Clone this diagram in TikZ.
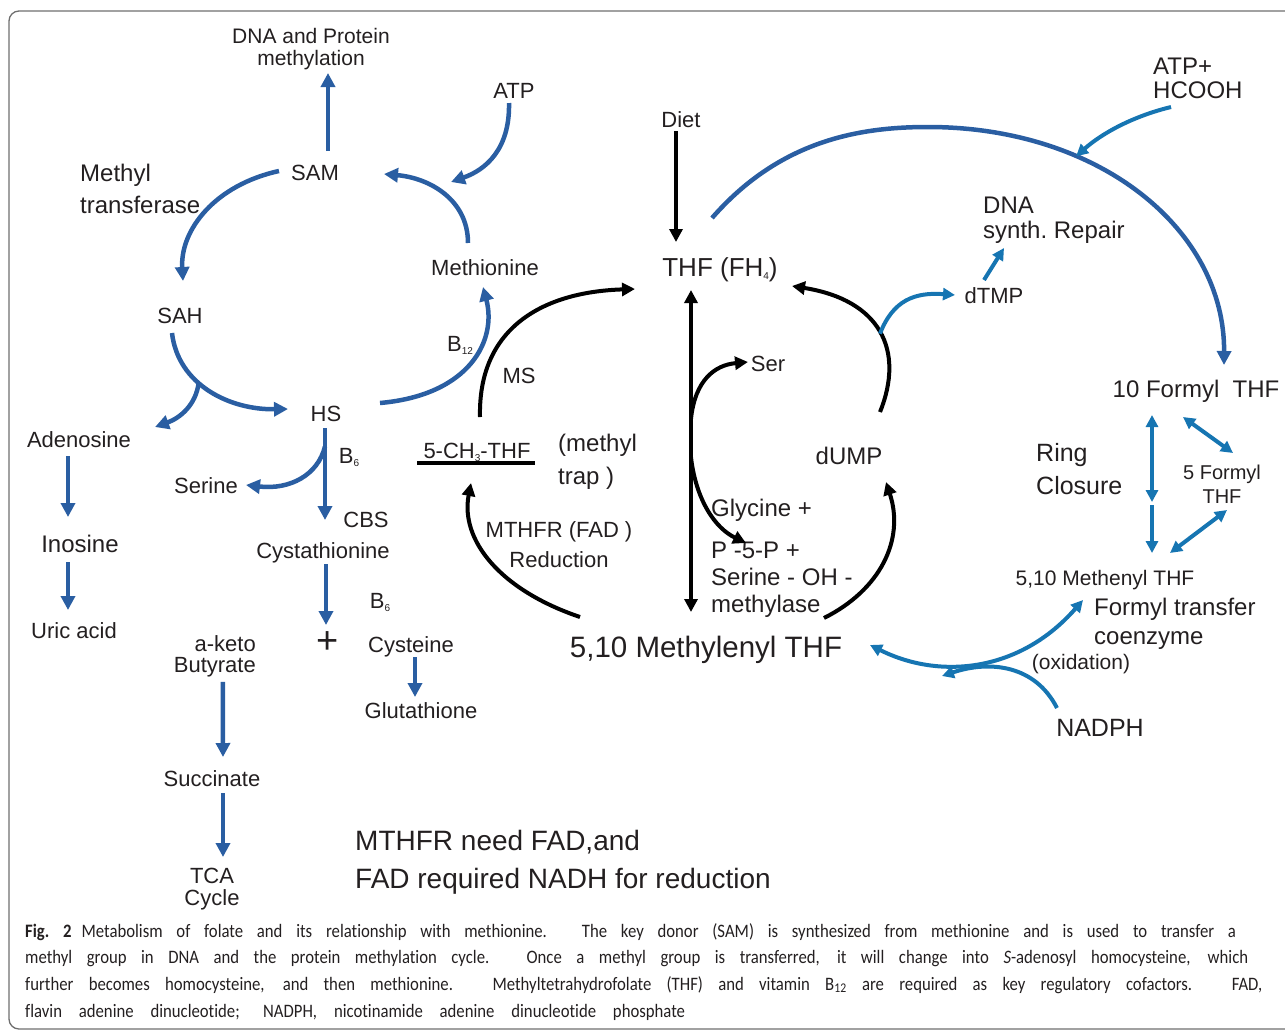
\documentclass[tikz,border=0pt]{standalone}
\usepackage{fontspec}
\setmainfont{Liberation Sans}
\newfontfamily\capfont[Ligatures=NoCommon,FakeStretch=0.88]{Carlito}
\usetikzlibrary{arrows.meta}
\definecolor{dblue}{RGB}{42,94,162}
\definecolor{lblue}{RGB}{22,117,178}
\definecolor{ink}{RGB}{35,31,32}
\definecolor{frame}{RGB}{110,110,110}
\newcommand{\lowsub}[1]{\raisebox{-3pt}{\fontsize{10}{10}\selectfont #1}}

\begin{document}
\begin{tikzpicture}[x=1pt,y=-1pt,
    lbl/.style={inner sep=1pt,text=ink,font=\fontsize{22}{24}\selectfont},
    big/.style={lbl,font=\fontsize{24}{26}\selectfont},
    capline/.style={inner sep=0pt,anchor=base west,text=ink,font=\capfont\fontsize{19}{20}\selectfont},
    barrow/.style={draw=dblue,line width=4.5pt,->,>={Triangle[length=14pt,width=14pt]}},
    larrow/.style={draw=lblue,line width=4pt,->,>={Triangle[length=12pt,width=12pt]}},
    karrow/.style={draw=black,line width=4pt,->,>={Triangle[length=13pt,width=13pt]}}
  ]
  \useasboundingbox (0,0) rectangle (1285,1031);
  \draw[frame,line width=1.3pt,rounded corners=10pt] (9,1029) -- (9,11) -- (1300,11) -- (1300,1029) -- cycle;

  % methionine cycle
  \node[lbl,align=center,font=\fontsize{21}{22}\selectfont] (dna) at (311,49) {DNA and Protein\\methylation};
  \node[lbl] (atp) at (514,91) {ATP};
  \node[lbl,align=left,anchor=west,font=\fontsize{24}{32}\selectfont] (mtrans) at (79,189) {Methyl\\transferase};
  \node[lbl] (sam) at (315,173) {SAM};
  \node[lbl] (meth) at (485,268) {Methionine};
  \node[lbl] (sah) at (180,316) {SAH};
  \node[lbl] (b12) at (460,345) {B\lowsub{12}};
  \node[lbl] (ms) at (519,376) {MS};
  \node[lbl] (hs) at (326,414) {HS};
  \node[lbl] (aden) at (79,440) {Adenosine};
  \node[lbl] (b6a) at (349,457) {B\lowsub{6}};
  \node[lbl] (serine) at (206,486) {Serine};
  \node[lbl] (cbs) at (366,520) {CBS};
  \node[big] (inosine) at (80,544) {Inosine};
  \node[lbl] (cysta) at (323,553) {Cystathionine};
  \node[lbl] (b6b) at (380,602) {B\lowsub{6}};
  \node[lbl] (uric) at (74,631) {Uric acid};
  \node[lbl,align=right,anchor=east,font=\fontsize{22}{21}\selectfont] (aketo) at (257,656) {a-keto\\Butyrate};
  \node[lbl,font=\fontsize{38}{38}\selectfont] (plus) at (328,643) {+};
  \node[lbl] (cyst) at (411,647) {Cysteine};
  \node[lbl] (gluta) at (421,711) {Glutathione};
  \node[lbl] (succ) at (212,779) {Succinate};
  \node[lbl,align=center,font=\fontsize{22}{22}\selectfont] (tca) at (212,889) {TCA\\Cycle};
  \node[lbl,align=left,anchor=west,font=\fontsize{28}{38}\selectfont] (note) at (354,862) {MTHFR need FAD,and\\FAD required NADH for reduction};

  % folate cycle
  \node[lbl] (diet) at (681,120) {Diet};
  \node[lbl,font=\fontsize{26}{28}\selectfont] (thf) at (720,270) {THF (FH\lowsub{4})};
  \node[lbl] (ch3thf) at (477,452) {5-CH\lowsub{3}-THF};
  \node[lbl,align=left,anchor=west,font=\fontsize{24}{33}\selectfont] (trap) at (557,462) {(methyl\\trap )};
  \node[lbl,align=center,font=\fontsize{22}{30}\selectfont] (mthfr) at (559,545) {MTHFR (FAD )\\Reduction};
  \node[lbl,font=\fontsize{29.5}{32}\selectfont] (methylenyl) at (706,650) {5,10 Methylenyl THF};
  \node[lbl] (ser) at (768,364) {Ser};
  \node[big] (dump) at (849,456) {dUMP};
  \node[lbl,align=left,anchor=north west,font=\fontsize{24}{27}\selectfont] (glyc) at (710,498) {Glycine +\\[15pt]P -5-P +\\Serine - OH -\\methylase};
  \node[lbl] (dtmp) at (994,296) {dTMP};
  \node[big,align=left,anchor=west,font=\fontsize{24}{25}\selectfont] (dnasyn) at (982,220) {DNA\\synth.\ Repair};
  \node[big,align=left,anchor=west,font=\fontsize{24}{24}\selectfont] (atphc) at (1152,78) {ATP+\\HCOOH};
  \node[big] (formyl10) at (1196,391) {10 Formyl\ \ THF};
  \node[big,align=left,anchor=west,font=\fontsize{25}{33}\selectfont] (ring) at (1035,469) {Ring\\Closure};
  \node[lbl,align=center,font=\fontsize{20}{24}\selectfont] (formyl5) at (1222,484) {5 Formyl\\THF};
  \node[lbl,font=\fontsize{21}{22}\selectfont] (methenyl) at (1105,580) {5,10 Methenyl THF};
  \node[big,align=left,anchor=west,font=\fontsize{24}{29}\selectfont] (ftrans) at (1093,624) {Formyl transfer\\coenzyme};
  \node[lbl,font=\fontsize{21}{22}\selectfont] (oxid) at (1081,664) {(oxidation)};
  \node[lbl,font=\fontsize{25}{26}\selectfont] (nadph) at (1100,728) {NADPH};

  \coordinate (atpin) at (451,182);
  \coordinate (glyin) at (746,543);
  \coordinate (arctop) at (928,127);
  \coordinate (ringmid) at (1152,503);
  \coordinate (nadin) at (942,676);

  \path ([shift={(13,-22)}]sam.center) edge[barrow] ([shift={(17,24)}]dna.center);
  \draw[barrow] ([shift={(-5,12)}]atp.center) .. controls (510,150) and (485,170) .. (atpin);
  \draw[barrow] ([shift={(-17,-25)}]meth.center) .. controls (468,200) and (430,178) .. ([shift={(69,1)}]sam.center);
  \draw[barrow] ([shift={(-36,-2)}]sam.center) .. controls (215,185) and (180,230) .. ([shift={(3,-35)}]sah.center);
  \draw[barrow] ([shift={(-8,17)}]sah.center) .. controls (178,385) and (230,410) .. coordinate[pos=0.4] (adbr) ([shift={(-38,-5)}]hs.center);
  \draw[barrow] (adbr) .. controls (196,405) and (180,418) .. ([shift={(76,-13)}]aden.center);
  \draw[barrow] ([shift={(54,-11)}]hs.center) .. controls (470,395) and (497,340) .. ([shift={(-2,19)}]meth.center);
  \path ([shift={(-1,14)}]hs.center) edge[barrow] coordinate[pos=0.2] (serbr) ([shift={(2,-33)}]cysta.center);
  \draw[barrow] (serbr) .. controls (318,475) and (290,490) .. ([shift={(40,-1)}]serine.center);
  \path ([shift={(-11,16)}]aden.center) edge[barrow] ([shift={(-12,-27)}]inosine.center);
  \path ([shift={(-12,18)}]inosine.center) edge[barrow] ([shift={(-6,-21)}]uric.center);
  \path ([shift={(3,11)}]cysta.center) edge[barrow] ([shift={(-2,-18)}]plus.center);
  \path ([shift={(4,10)}]cyst.center) edge[barrow] ([shift={(-6,-14)}]gluta.center);
  \path ([shift={(8,4)}]aketo.south) edge[barrow] ([shift={(11,-22)}]succ.center);
  \path ([shift={(11,14)}]succ.center) edge[barrow] ([shift={(11,-32)}]tca.center);

  \draw[black,line width=4pt] ([shift={(-60,11)}]ch3thf.center) -- ([shift={(58,11)}]ch3thf.center);
  \path ([shift={(-5,11)}]diet.center) edge[karrow] ([shift={(-44,-28)}]thf.center);
  \draw[karrow] ([shift={(3,-35)}]ch3thf.center) .. controls (478,330) and (540,292) .. ([shift={(-85,19)}]thf.center);
  \draw[karrow] ([shift={(-126,-33)}]methylenyl.center) .. controls (500,590) and (460,540) .. ([shift={(-6,31)}]ch3thf.center);
  \draw[karrow,<->] ([shift={(-29,20)}]thf.center) -- coordinate[pos=0.4] (serb) coordinate[pos=0.52] (glyb) ([shift={(-15,-38)}]methylenyl.center);
  \draw[karrow] (serb) .. controls (695,380) and (715,365) .. ([shift={(-20,-2)}]ser.center);
  \draw[karrow] (glyb) .. controls (696,500) and (715,528) .. (glyin);
  \draw[karrow] ([shift={(31,-44)}]dump.center) .. controls (905,350) and (880,300) .. coordinate[pos=0.48] (dtbr) ([shift={(72,16)}]thf.center);
  \draw[karrow] ([shift={(118,-32)}]methylenyl.center) .. controls (880,590) and (905,540) .. ([shift={(37,26)}]dump.center);
  \draw[larrow] (dtbr) .. controls (893,300) and (915,292) .. ([shift={(-39,-1)}]dtmp.center);
  \path ([shift={(-10,-16)}]dtmp.center) edge[larrow] ([shift={(22,28)}]dnasyn.west);

  \draw[barrow] ([shift={(-8,-52)}]thf.center) .. controls (780,140) and (860,127) .. (arctop)
    .. controls (1100,127) and (1225,230) .. coordinate[pos=0.32] (arcin) ([shift={(28,-26)}]formyl10.center);
  \draw[larrow] ([shift={(19,29)}]atphc.west) .. controls (1130,117) and (1100,135) .. (arcin);
  \path ([shift={(-44,24)}]formyl10.center) edge[larrow,<->] ([yshift=1pt]ringmid);
  \path ([yshift=-2pt]ringmid) edge[larrow] ([shift={(47,-27)}]methenyl.center);
  \path ([shift={(-13,26)}]formyl10.center) edge[larrow,<->] ([shift={(11,-31)}]formyl5.center);
  \path ([shift={(5,26)}]formyl5.center) edge[larrow,<->] ([shift={(65,-27)}]methenyl.center);
  \draw[larrow,<->] ([shift={(164,-5)}]methylenyl.center) .. controls (940,680) and (1020,672) .. ([shift={(-22,20)}]methenyl.center);
  \draw[larrow] ([shift={(-43,-20)}]nadph.center) .. controls (1035,665) and (990,660) .. (nadin);

  % caption
  \node[capline] (cap1) at (25,937) {\makebox[1211pt][s]{\textbf{Fig.~2}\hspace{10pt}Metabolism of folate and its relationship with methionine. The key donor (SAM) is synthesized from methionine and is used to transfer a}};
  \node[capline] (cap2) at (25,963) {\makebox[1223pt][s]{methyl group in DNA and the protein methylation cycle. Once a methyl group is transferred, it will change into \textit{S}-adenosyl homocysteine, which}};
  \node[capline] (cap3) at (25,990) {\makebox[1237pt][s]{further becomes homocysteine, and then methionine. Methyltetrahydrofolate (THF) and vitamin B\textsubscript{12} are required as key regulatory cofactors. FAD,}};
  \node[capline] (cap4) at (25,1017) {\makebox[660pt][s]{flavin adenine dinucleotide; NADPH, nicotinamide adenine dinucleotide phosphate}};
\end{tikzpicture}
\end{document}
